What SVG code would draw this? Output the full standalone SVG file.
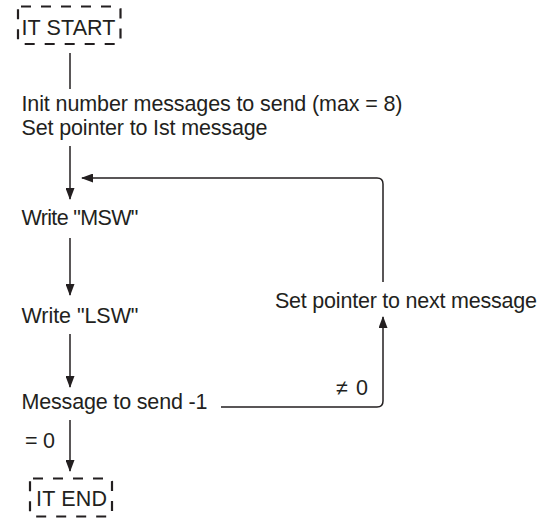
<svg xmlns="http://www.w3.org/2000/svg" width="542" height="519" viewBox="0 0 542 519">
  <style>
    .t { font-family: "Liberation Sans", Arial, sans-serif; font-size: 21.5px; fill: #231f20; }
    .box { fill: none; stroke: #231f20; stroke-width: 2.2; stroke-dasharray: 10 10; }
    .ln { fill: none; stroke: #231f20; stroke-width: 1.5; }
  </style>
  <defs>
    <marker id="arr" markerUnits="userSpaceOnUse" markerWidth="12" markerHeight="9" refX="11" refY="4.5" orient="auto">
      <path d="M0,0 L12,4.5 L0,9 z" fill="#231f20"/>
    </marker>
  </defs>
  <rect width="542" height="519" fill="#ffffff"/>

  <g id="connectors">
    <line class="ln" x1="70" y1="53" x2="70" y2="89"/>
    <line class="ln" x1="70" y1="146" x2="70" y2="199" marker-end="url(#arr)"/>
    <line class="ln" x1="70" y1="238" x2="70" y2="295" marker-end="url(#arr)"/>
    <line class="ln" x1="70" y1="334" x2="70" y2="387" marker-end="url(#arr)"/>
    <line class="ln" x1="70" y1="420" x2="70" y2="471" marker-end="url(#arr)"/>
    <path class="ln" d="M221,407 H377 Q383,407 383,401 V317" marker-end="url(#arr)"/>
    <path class="ln" d="M383,282 V184 Q383,178 377,178 H82" marker-end="url(#arr)"/>
    <text class="t" x="336" y="395" textLength="32">≠ 0</text>
    <text class="t" x="25" y="447.5" textLength="30">= 0</text>
  </g>

  <g id="it-start">
    <rect class="box" x="18" y="6.5" width="102.5" height="37.5" rx="3"/>
    <text class="t" x="21.5" y="34.5" textLength="94">IT START</text>
  </g>

  <g id="init">
    <text class="t" x="21.5" y="110.5" textLength="381">Init number messages to send (max = 8)</text>
    <text class="t" x="21.5" y="135" textLength="246">Set pointer to Ist message</text>
  </g>

  <g id="write-msw">
    <text class="t" x="21.5" y="224.5" textLength="117">Write "MSW"</text>
  </g>

  <g id="write-lsw">
    <text class="t" x="21.5" y="322.5" textLength="117">Write "LSW"</text>
  </g>

  <g id="set-next">
    <text class="t" x="275" y="307.5" textLength="262">Set pointer to next message</text>
  </g>

  <g id="decrement">
    <text class="t" x="21.5" y="409" textLength="186">Message to send -1</text>
  </g>

  <g id="it-end">
    <rect class="box" x="30" y="478.5" width="82" height="38" rx="3"/>
    <text class="t" x="36" y="506" textLength="71">IT END</text>
  </g>
</svg>
